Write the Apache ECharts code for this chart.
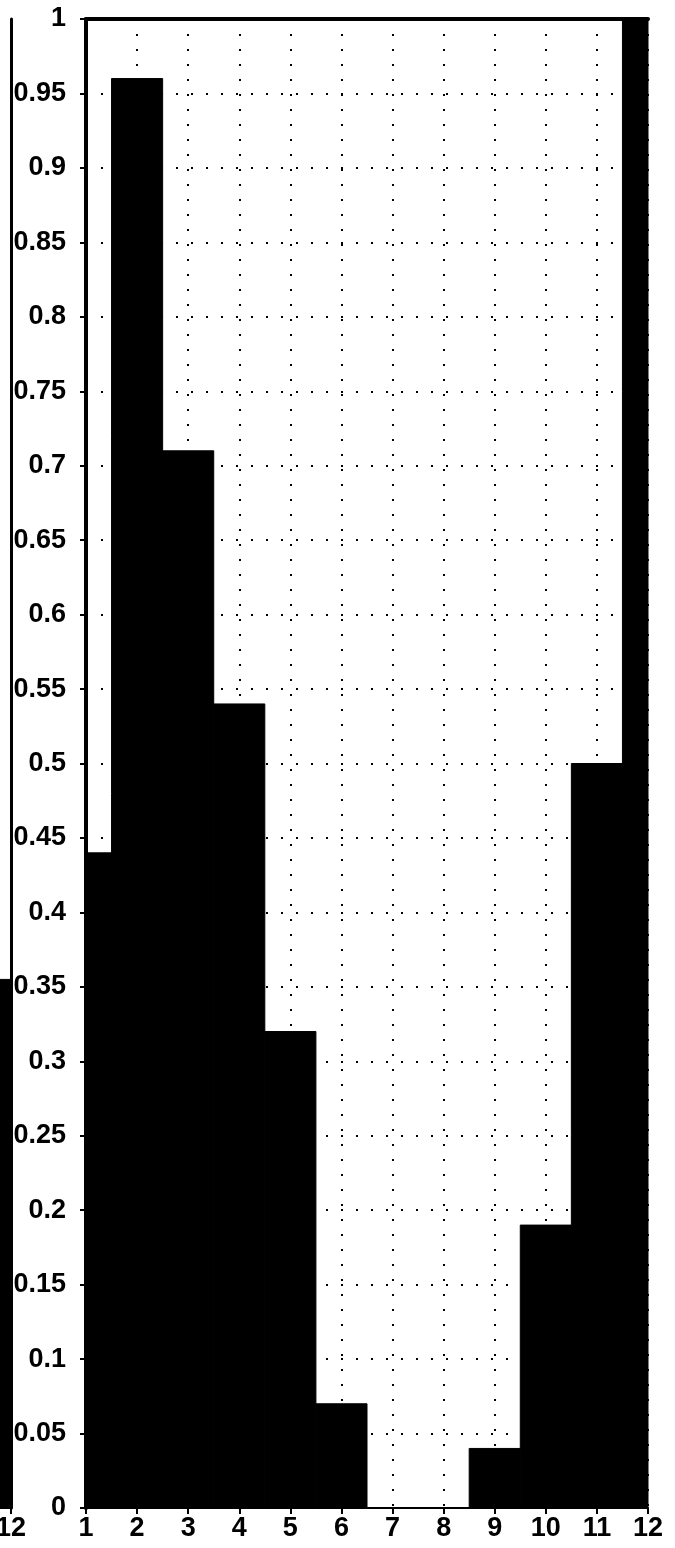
<!DOCTYPE html>
<html>
<head>
<meta charset="utf-8">
<script src="https://cdn.jsdelivr.net/npm/echarts@6/dist/echarts.min.js"></script>
<style>
html,body{margin:0;padding:0;background:#fff;}
#c{width:675px;height:1548px;}
</style>
</head>
<body>
<div id="c"></div>
<script>
// Data
const categories = [1, 2, 3, 4, 5, 6, 7, 8, 9, 10, 11, 12];
const values = [0.44, 0.96, 0.71, 0.54, 0.32, 0.07, 0, 0, 0.04, 0.19, 0.50, 1.0];
// partial neighbouring panel on the far left (only its last bar is visible)
const neighborCategories = [12];
const neighborValues = [0.355];
const yTickStep = 0.05;

const FONT = 'Liberation Sans';

function renderItem(params, api) {
  const x = api.value(0), y = api.value(1);
  const p1 = api.coord([x - 0.5, y]);
  const p2 = api.coord([x + 0.5, 0]);
  const cs = params.coordSys;
  const rect = echarts.graphic.clipRectByRect(
    { x: p1[0], y: p1[1], width: p2[0] - p1[0], height: p2[1] - p1[1] },
    { x: cs.x, y: cs.y, width: cs.width, height: cs.height }
  );
  if (!rect || rect.height <= 0) return null;
  return { type: 'rect', shape: rect, style: { fill: '#000', stroke: '#000', lineWidth: 1 } };
}

const labelStyle = { color: '#000', fontFamily: FONT, fontWeight: 'bold', fontSize: 27 };
const dotted = { color: '#000', width: 2, type: [2, 13] };

const chart = echarts.init(document.getElementById('c'), null, { renderer: 'canvas' });
chart.setOption({
  animation: false,
  backgroundColor: '#fff',
  grid: [
    { left: 86, right: 27, top: 19, bottom: 40, outerBoundsMode: 'none', containLabel: false },
    { left: -40, right: 664, top: 19, bottom: 40, outerBoundsMode: 'none', containLabel: false }
  ],
  xAxis: [
    {
      type: 'value', gridIndex: 0, min: 1, max: 12, interval: 1,
      axisLine: { show: true, onZero: false, lineStyle: { color: '#000', width: 2 } },
      axisTick: { show: true, length: 6, lineStyle: { color: '#000', width: 2 } },
      axisLabel: Object.assign({ margin: 7 }, labelStyle),
      splitLine: { show: true, lineStyle: dotted }
    },
    {
      type: 'value', gridIndex: 0, position: 'top', min: 1, max: 12, interval: 1,
      axisLine: { show: true, onZero: false, lineStyle: { color: '#000', width: 4 } },
      axisTick: { show: false }, axisLabel: { show: false }, splitLine: { show: false }
    },
    {
      type: 'value', gridIndex: 1, min: 11, max: 12, interval: 1,
      axisLine: { show: true, onZero: false, lineStyle: { color: '#000', width: 2 } },
      axisTick: { show: true, length: 6, lineStyle: { color: '#000', width: 2 } },
      axisLabel: Object.assign({ margin: 7, formatter: v => (v === 12 ? '12' : '') }, labelStyle),
      splitLine: { show: false }
    }
  ],
  yAxis: [
    {
      type: 'value', gridIndex: 0, min: 0, max: 1, interval: yTickStep,
      axisLine: { show: true, lineStyle: { color: '#000', width: 4 } },
      axisTick: { show: true, length: 6, lineStyle: { color: '#000', width: 2 } },
      axisLabel: Object.assign({ margin: 20, formatter: v => String(parseFloat(v.toFixed(2))) }, labelStyle),
      splitLine: { show: true, lineStyle: dotted }
    },
    {
      type: 'value', gridIndex: 1, position: 'right', min: 0, max: 1, interval: yTickStep,
      axisLine: { show: true, lineStyle: { color: '#000', width: 3 } },
      axisTick: { show: false }, axisLabel: { show: false }, splitLine: { show: false }
    }
  ],
  series: [
    {
      type: 'custom', xAxisIndex: 0, yAxisIndex: 0, renderItem: renderItem,
      data: categories.map((c, i) => [c, values[i]]), z: 3
    },
    {
      type: 'custom', xAxisIndex: 2, yAxisIndex: 1, renderItem: renderItem,
      data: neighborCategories.map((c, i) => [c, neighborValues[i]]), z: 3
    }
  ]
});
</script>
</body>
</html>
